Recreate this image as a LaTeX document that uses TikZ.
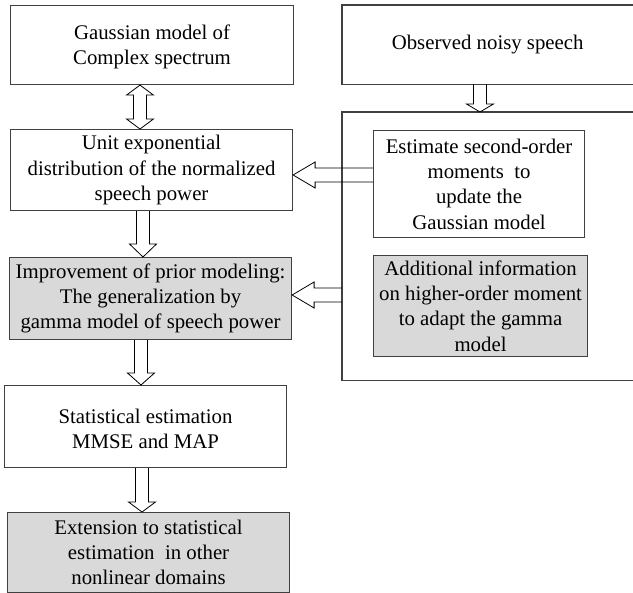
\documentclass[tikz,border=0pt]{standalone}
\usepackage{fontspec}
\setmainfont{Liberation Serif}
\usetikzlibrary{calc}
\definecolor{edge}{HTML}{404040}
\definecolor{shade}{HTML}{D9D9D9}
\tikzset{
  txt/.style={anchor=north west, inner sep=0pt, align=center,
    font=\fontsize{20.8}{25.3}\selectfont},
  box/.style={txt, draw=edge, line width=1.1pt},
  graybox/.style={box, fill=shade},
  arr/.style={draw=black, line width=0.8pt},
  frame/.style={draw=edge, line width=1.1pt},
}
\newcommand\downarr[4]{\draw[arr] let \p1=(#1.south), \p2=(#2.north) in
  (#3pt-6.5pt,\y1) -- (#3pt-6.5pt,\y2+#4pt) -- (#3pt-13.5pt,\y2+#4pt) -- (#3pt,\y2)
  -- (#3pt+13.5pt,\y2+#4pt) -- (#3pt+6.5pt,\y2+#4pt) -- (#3pt+6.5pt,\y1);}
\newcommand\leftarr[4]{\draw[arr] let \p1=(#1.west), \p2=(#2.east) in
  (\x1,#3pt+7pt) -- (\x2+#4pt,#3pt+7pt) -- (\x2+#4pt,#3pt+13pt) -- (\x2,#3pt)
  -- (\x2+#4pt,#3pt-13pt) -- (\x2+#4pt,#3pt-7pt) -- (\x1,#3pt-7pt);}
\newcommand\dblarr[4]{\draw[arr] let \p1=(#1.south), \p2=(#2.north) in
  (#3pt,\y1) -- (#3pt+13.5pt,\y1-#4pt) -- (#3pt+6.5pt,\y1-#4pt) -- (#3pt+6.5pt,\y2+#4pt)
  -- (#3pt+13.5pt,\y2+#4pt) -- (#3pt,\y2) -- (#3pt-13.5pt,\y2+#4pt) -- (#3pt-6.5pt,\y2+#4pt)
  -- (#3pt-6.5pt,\y1-#4pt) -- (#3pt-13.5pt,\y1-#4pt) -- cycle;}
\begin{document}
\begin{tikzpicture}[x=1pt,y=1pt]
\useasboundingbox (0,0) rectangle (633,-593);
% left column
\node[box, minimum width=283pt, minimum height=79pt] (gauss) at (10,-5) {\rule{0pt}{19pt}Gaussian model of\\Complex spectrum};
\node[box, minimum width=282pt, minimum height=81pt] (unit) at (10,-129) {Unit exponential\\distribution of the normalized\\speech power};
\node[graybox, minimum width=282pt, minimum height=82pt] (impr) at (9,-257) {Improvement of prior modeling:\\The generalization by\\gamma model of speech power};
\node[box, minimum width=282pt, minimum height=82pt] (stat) at (4,-385) {\rule{0pt}{19pt}Statistical estimation\\MMSE and MAP};
\node[graybox, minimum width=282pt, minimum height=80pt] (ext) at (7,-512) {Extension to statistical\\estimation~ in other\\nonlinear domains};
% right column
\node[txt, minimum width=291pt, minimum height=79pt] (obs) at (342,-5) {Observed noisy speech};
\draw[frame] ($(obs.north east)+(10,0)$) -- (obs.north west) -- (obs.south west) -- ($(obs.south east)+(10,0)$);
\node[anchor=north west, inner sep=0pt, minimum width=300pt, minimum height=268pt] (cont) at (342,-112) {};
\draw[frame] (cont.north east) -- (cont.north west) -- (cont.south west) -- (cont.south east);
\node[box, minimum width=211pt, minimum height=107pt] (est) at (373,-130) {Estimate second-order\\moments~ to\\update the\\Gaussian model};
\node[graybox, minimum width=214pt, minimum height=101pt] (add) at (373,-255) {Additional information\\on higher-order moment\\to adapt the gamma\\model};
% arrows
\dblarr{gauss}{unit}{140}{10}
\downarr{obs}{cont}{480}{8}
\downarr{unit}{impr}{143}{13}
\downarr{impr}{stat}{141}{12}
\downarr{stat}{ext}{142}{10}
\leftarr{est}{unit}{-175}{22}
\leftarr{cont}{impr}{-295}{22}
\end{tikzpicture}
\end{document}
